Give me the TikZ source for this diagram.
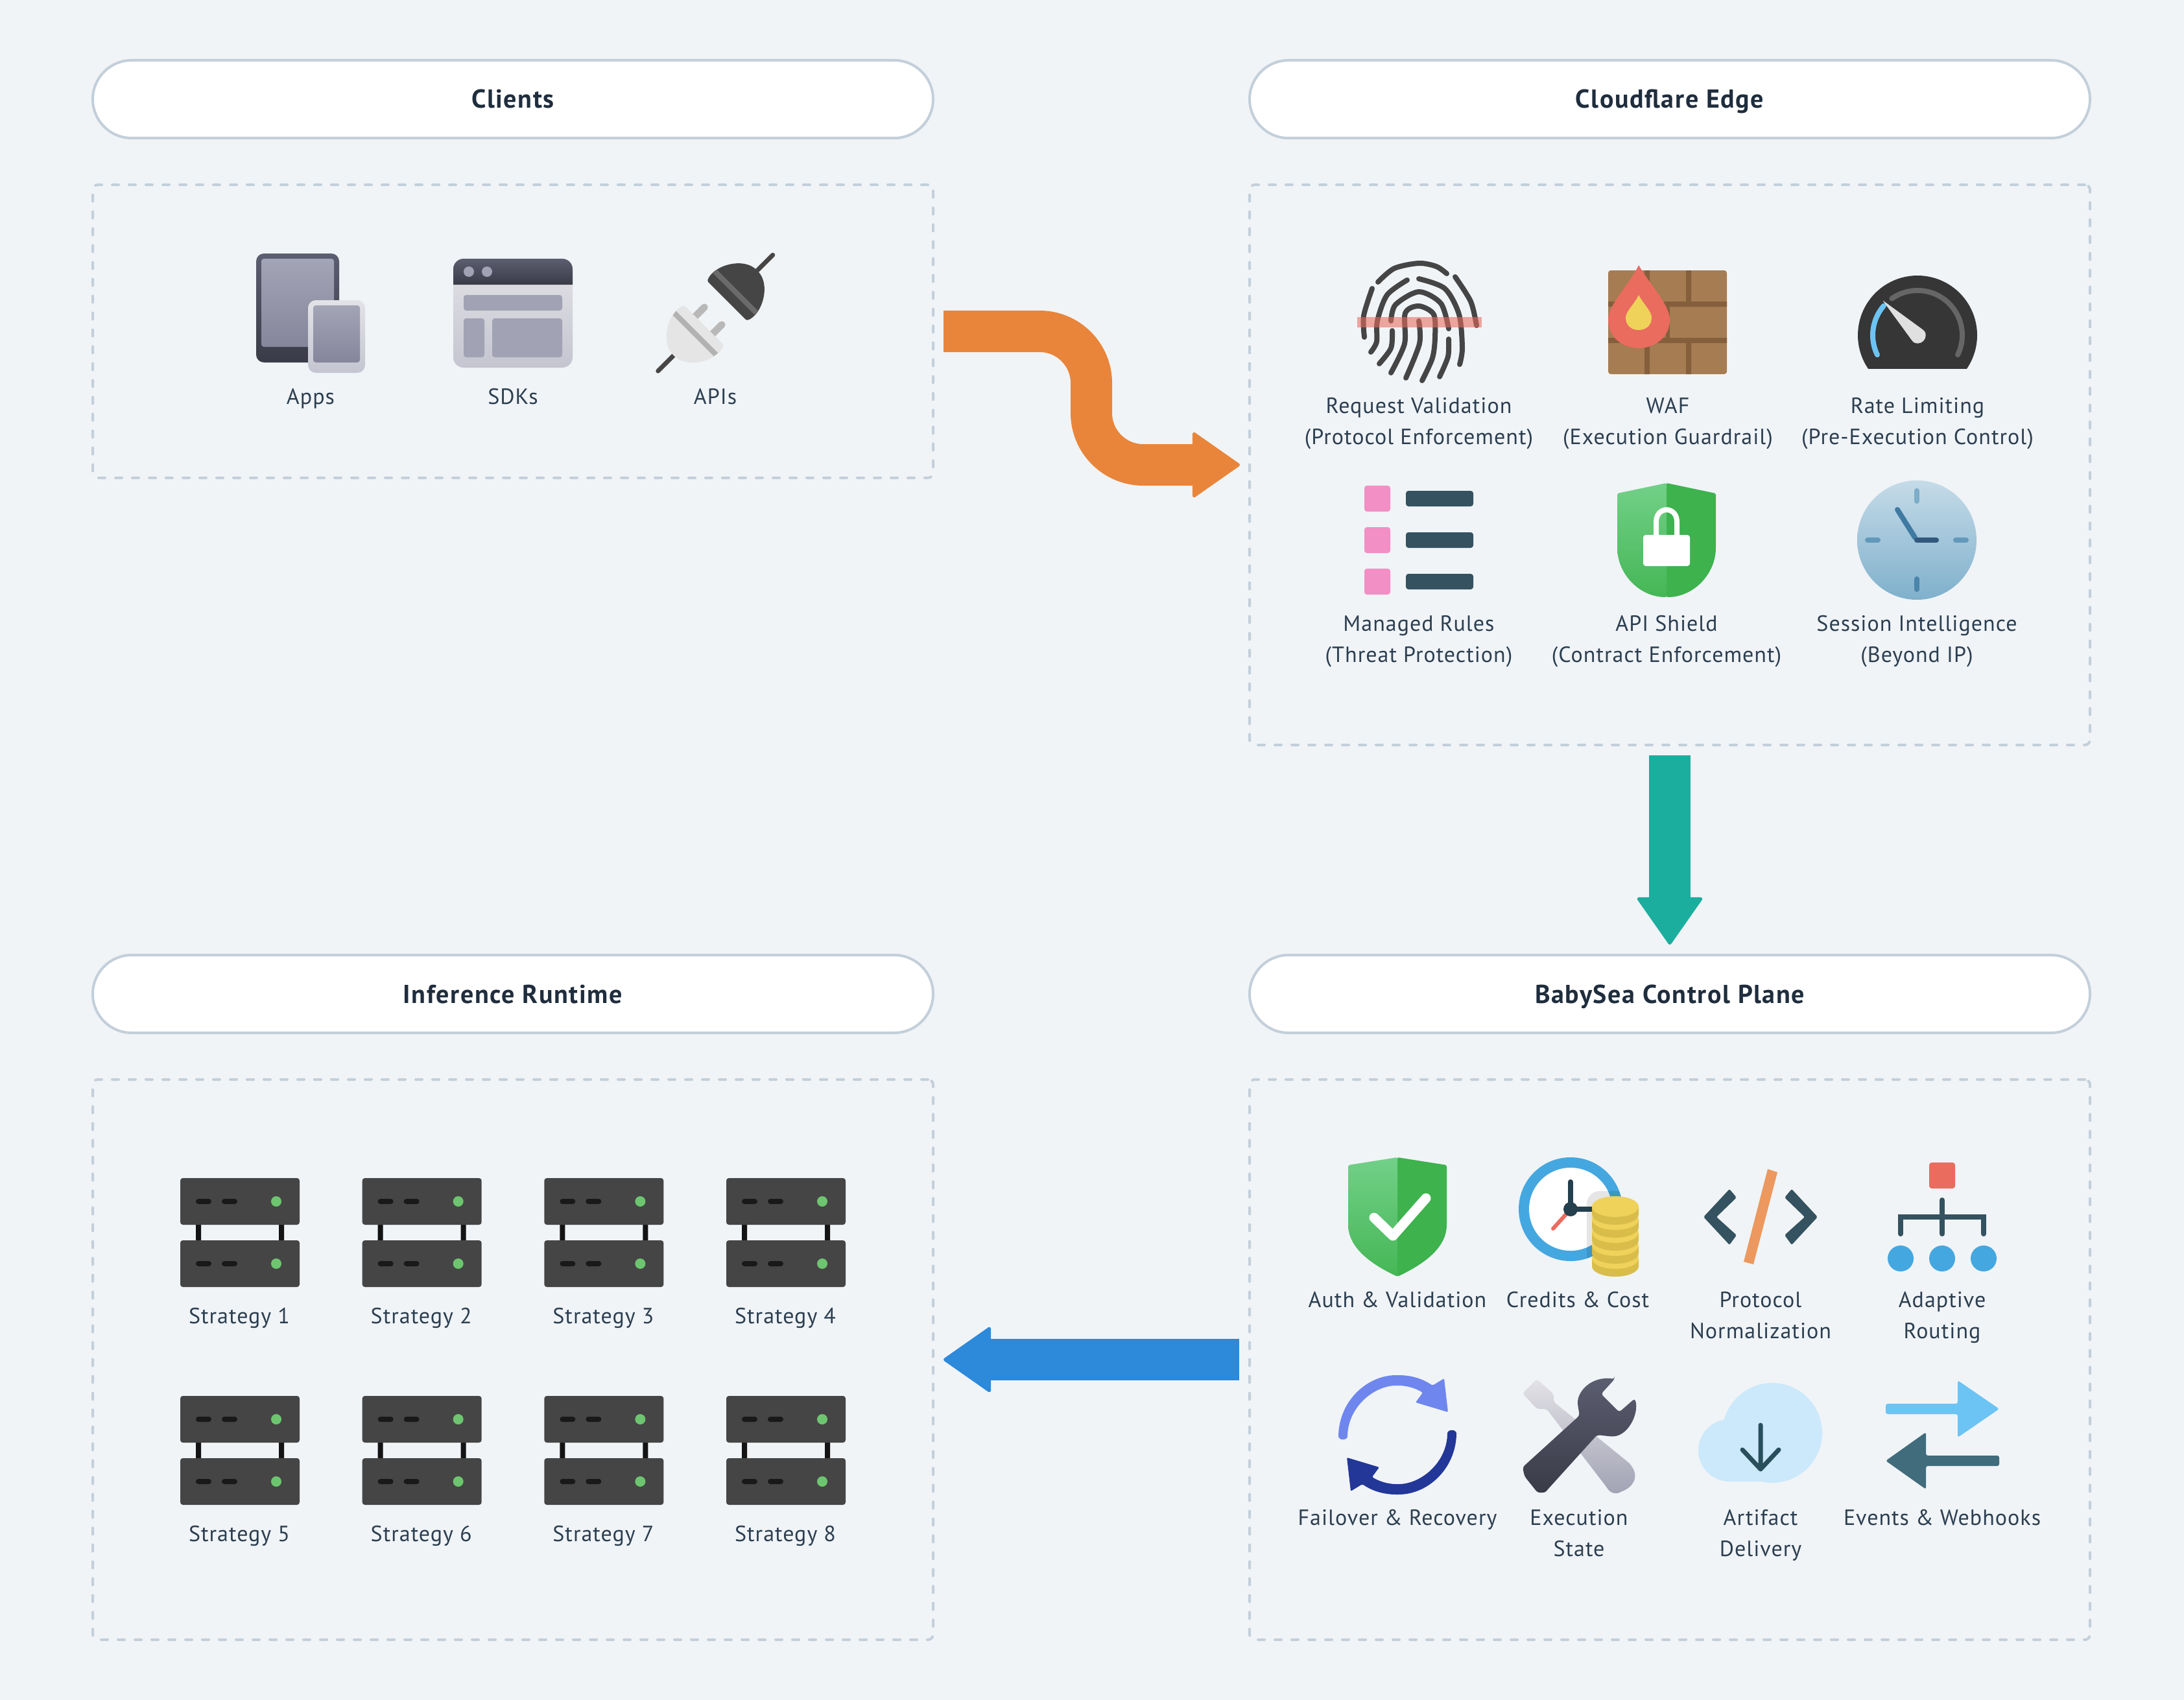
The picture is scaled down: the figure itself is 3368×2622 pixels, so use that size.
\documentclass[tikz,border=0pt]{standalone}
\usepackage{fontspec}
\setmainfont{PT Sans}
\usetikzlibrary{arrows.meta}
\definecolor{bgc}{HTML}{F0F4F7}
\definecolor{edgec}{HTML}{C3CFDA}
\definecolor{titlec}{HTML}{1F2D3D}
\definecolor{labc}{HTML}{2C3E50}
\definecolor{orangec}{HTML}{E9853A}
\definecolor{tealc}{HTML}{1BAE9E}
\definecolor{bluec}{HTML}{2D89DA}
\definecolor{darktop}{HTML}{5C5E71}
\definecolor{darkbot}{HTML}{3A3B47}
\definecolor{screentop}{HTML}{A3A4B5}
\definecolor{screenbot}{HTML}{85869B}
\definecolor{lighttop}{HTML}{E3E2E7}
\definecolor{lightbot}{HTML}{C4C5D0}
\definecolor{blockc}{HTML}{A1A2B3}
\definecolor{inkc}{HTML}{454545}
\definecolor{slatec}{HTML}{34525F}
\definecolor{redc}{HTML}{E96C5F}
\definecolor{yellowc}{HTML}{EFD25A}
\definecolor{coinc}{HTML}{D9BD4A}
\definecolor{greenl}{HTML}{72D088}
\definecolor{greend}{HTML}{3DB24D}
\definecolor{skyc}{HTML}{45A7DF}
\definecolor{brickc}{HTML}{A67C52}
\definecolor{mortarc}{HTML}{855E3C}
\definecolor{paleblue}{HTML}{6CC4F4}
\definecolor{pinkc}{HTML}{F28FC5}
\definecolor{dialtop}{HTML}{C5DBE8}
\definecolor{dialbot}{HTML}{7FB0CC}
\definecolor{tickt}{HTML}{7CADC9}
\definecolor{tickb}{HTML}{4A85AB}
\definecolor{tickm}{HTML}{6299BB}
\definecolor{handc}{HTML}{3F7AA2}
\definecolor{handk}{HTML}{33587D}
\definecolor{handd}{HTML}{243F4D}
\definecolor{slashc}{HTML}{EC985E}
\definecolor{failA}{HTML}{6F86EE}
\definecolor{failB}{HTML}{223797}
\definecolor{cloudc}{HTML}{CBE9FB}
\definecolor{cloudar}{HTML}{2A4F5C}
\definecolor{exchB}{HTML}{406C7C}
\definecolor{ledc}{HTML}{6DC66F}
\tikzset{
  x=0.5pt,y=-0.5pt,
  pillbox/.style={draw=edgec,line width=2pt,fill=white,rounded corners=30pt,minimum width=648pt,minimum height=60pt,inner sep=0pt,
    text height=14pt,text depth=0pt,
    font=\fontsize{20}{24}\selectfont\bfseries\addfontfeature{LetterSpace=4},text=titlec},
  panelbox/.style={draw=edgec,line width=2pt,rounded corners=4pt,line cap=round,dash pattern=on 5pt off 8pt,minimum width=648pt,inner sep=0pt},
  lab/.style={anchor=base,align=center,inner sep=0pt,text=labc,font=\fontsize{17}{24}\selectfont\addfontfeature{LetterSpace=3}},
  fprint/.style={draw=inkc,line width=4pt,line cap=round,line join=round},
  bigarrow/.style={line width=32pt,-{Triangle[length=37.5pt,width=52pt,line width=2.5pt,round]}},
  rr/.style={rounded corners=2pt},
}
\newcommand\lab[4]{\node[lab] (#1) at (#2,#3) {#4};}
\newcommand\plugdome{(-43,0) .. controls (-54,24) and (-30,66) .. (0,66) .. controls (30,66) and (54,24) .. (43,0) -- cycle}
\newcommand\failarc{(-91,0) .. controls (-88,-55) and (-45,-92) .. (0,-92) .. controls (22,-92) and (40,-86) .. (54,-76) -- (72,-87) -- (78,-35) -- (28,-50) -- (39,-65) .. controls (28,-72) and (14,-76) .. (0,-76) .. controls (-35,-76) and (-74,-45) .. (-77,0) .. controls (-77,9) and (-91,9) .. cycle}
\begin{document}
\begin{tikzpicture}
\useasboundingbox (0,0) rectangle (3368,2622);
\fill[bgc] (0,0) rectangle (3368,2622);
% pills
\node[pillbox] (tClients) at (791,153) {Clients};
\node[pillbox] (tEdge) at (2575,153) {Cloudflare Edge};
\node[pillbox] (tRuntime) at (791,1533) {Inference Runtime};
\node[pillbox] (tControl) at (2575,1533) {BabySea Control Plane};
% panels
\node[panelbox,minimum height=226pt] (pClients) at (791,511) {};
\node[panelbox,minimum height=432pt] (pEdge) at (2575,717) {};
\node[panelbox,minimum height=432pt] (pRuntime) at (791,2097) {};
\node[panelbox,minimum height=432pt] (pControl) at (2575,2097) {};
% connectors
\coordinate (oA) at (1455,511); \coordinate (oB) at (1912,717);
\coordinate (tA) at (2575,1165); \coordinate (tB) at (2575,1457);
\coordinate (bA) at (1911,2097); \coordinate (bB) at (1455,2097);
\draw[bigarrow,orangec,rounded corners=40pt] (oA) -- (1683,511) -- (1683,717) -- (oB);
\draw[bigarrow,tealc] (tA) -- (tB);
\draw[bigarrow,bluec] (bA) -- (bB);
% Apps
\shade[rounded corners=6pt,top color=darktop,bottom color=darkbot] (395,391) rectangle (523,559);
\shade[rr,top color=screentop,bottom color=screenbot] (403,399) rectangle (515,535);
\shade[rounded corners=6pt,top color=lighttop,bottom color=lightbot] (475,463) rectangle (563,575);
\shade[rr,top color=screentop,bottom color=screenbot] (483,471) rectangle (555,559);
\lab{lApps}{479}{623}{Apps}
% SDKs
\shade[rounded corners=8pt,top color=lighttop,bottom color=lightbot] (699,399) rectangle (883,567);
\shade[top color=darktop,bottom color=darkbot] (699,439) -- (699,415) arc[start angle=180,end angle=90,radius=8pt] -- (867,399) arc[start angle=90,end angle=0,radius=8pt] -- (883,439) -- cycle;
\fill[blockc] (723,419) circle[radius=4pt] (751,419) circle[radius=4pt];
\fill[rr,blockc] (715,455) rectangle (867,479);
\fill[rr,blockc] (715,491) rectangle (747,551);
\fill[rr,blockc] (759,491) rectangle (867,551);
\lab{lSDKs}{791}{623}{SDKs}
% APIs plug
\begin{scope}[shift={(1085.5,501.5)},rotate=-45]
  \draw[inkc,line width=3.5pt,line cap=round] (0,60) -- (0,100);
  \draw[color=black!28,line width=5.5pt,line cap=round] (-19,0) -- (-19,-20) (19,0) -- (19,-20);
  \fill[black!10,rounded corners=1pt] \plugdome;
  \begin{scope}\clip \plugdome; \draw[black!30,line width=4pt] (-60,19) -- (60,19); \end{scope}
\end{scope}
\begin{scope}[shift={(1121,464)},rotate=135]
  \draw[inkc,line width=3.5pt,line cap=round] (0,60) -- (0,100);
  \fill[inkc,rounded corners=1pt] \plugdome;
  \begin{scope}\clip \plugdome; \draw[black!58,line width=4pt] (-60,19) -- (60,19); \end{scope}
\end{scope}
\lab{lAPIs}{1103}{623}{APIs}
% Fingerprint
\draw[fprint] plot[smooth] coordinates {(2125,435) (2150,414) (2188,406) (2215,411) (2231,422)};
\draw[fprint] plot[smooth] coordinates {(2116,445) (2103,487) (2104,520)};
\draw[fprint] plot[smooth] coordinates {(2244,427) (2268,465) (2277,502)};
\draw[fprint] plot[smooth] coordinates {(2170,432) (2139,455) (2124,495) (2123,527) (2114,543)};
\draw[fprint] plot[smooth] coordinates {(2188,430) (2228,445) (2250,485) (2255,537) (2251,562)};
\draw[fprint] plot[smooth] coordinates {(2145,495) (2152,470) (2188,450) (2222,468) (2234,507)};
\draw[fprint] plot[smooth] coordinates {(2147,510) (2145,537) (2127,561)};
\draw[fprint] plot[smooth] coordinates {(2234,523) (2233,550) (2220,581)};
\draw[fprint] plot[smooth] coordinates {(2145,575) (2166,530) (2167,483) (2188,472) (2211,485) (2213,520) (2209,552) (2193,587)};
\draw[fprint] plot[smooth] coordinates {(2188,495) (2189,530) (2168,583)};
\fill[redc,opacity=.58] (2093,489) rectangle (2285,505);
\lab{lReq}{2188}{685}{Request Validation\\(Protocol Enforcement)}
% WAF
\fill[rr,brickc] (2480,417) rectangle (2663,577);
\fill[mortarc] (2480,465) rectangle (2663,473) (2480,521) rectangle (2663,529);
\fill[mortarc] (2536,417) rectangle (2544,465) (2600,417) rectangle (2608,465);
\fill[mortarc] (2569,473) rectangle (2575,521);
\fill[mortarc] (2536,529) rectangle (2544,577) (2600,529) rectangle (2608,577);
\fill[redc] (2527,409) .. controls (2545,440) and (2575,470) .. (2575,493) .. controls (2575,520) and (2552,537) .. (2527,537) .. controls (2502,537) and (2480,520) .. (2480,493) .. controls (2480,470) and (2512,440) .. (2527,409) -- cycle;
\fill[yellowc] (2527,455) .. controls (2535,470) and (2547,480) .. (2547,490) .. controls (2547,502) and (2538,509) .. (2527,509) .. controls (2516,509) and (2507,502) .. (2507,490) .. controls (2507,480) and (2520,470) .. (2527,455) -- cycle;
\lab{lWAF}{2572}{685}{WAF\\(Execution Guardrail)}
% Gauge
\fill[black!79] plot[domain=-34.4:214.4,samples=90] ({2957+92*cos(\x)},{517-92*sin(\x)}) -- cycle;
\draw[black!60,line width=4pt,line cap=round] plot[domain=-26:125,samples=50] ({2957+69*cos(\x)},{517-69*sin(\x)});
\draw[paleblue,line width=4pt,line cap=round] plot[domain=206:139,samples=30] ({2957+69*cos(\x)},{517-69*sin(\x)});
\fill[black!12,rounded corners=1pt] (2903,463) -- (2966,509) arc[start angle=45,end angle=-135,radius=6pt] -- cycle;
\lab{lRate}{2957}{685}{Rate Limiting\\(Pre-Execution Control)}
% Managed rules
\foreach \dy in {0,64,128}{
  \fill[rr,pinkc] (2104,749+\dy) rectangle (2144,789+\dy);
  \fill[rr,slatec] (2168,757+\dy) rectangle (2272,781+\dy);
}
\lab{lRules}{2188}{1021}{Managed Rules\\(Threat Protection)}
% API shield
\fill[greend,rounded corners=1pt] (2570,745) -- (2646,761) -- (2646,843) .. controls (2646,885) and (2612,921) .. (2570,921) -- cycle;
\shade[top color=greenl,bottom color=greend!85!greenl,rounded corners=1pt] (2570,745) -- (2494,761) -- (2494,843) .. controls (2494,885) and (2528,921) .. (2570,921) -- cycle;
\draw[white,line width=4pt] (2554,830) -- (2554,805) .. controls (2554,780) and (2586,780) .. (2586,805) -- (2586,830);
\fill[white,rr] (2534,825) rectangle (2606,873);
\lab{lShield}{2570}{1021}{API Shield\\(Contract Enforcement)}
% Session clock
\shade[top color=dialtop,bottom color=dialbot] (2956,833) circle[radius=46pt];
\draw[line width=4pt,line cap=round,tickt] (2956,757) -- (2956,773);
\draw[line width=4pt,line cap=round,tickb] (2956,893) -- (2956,909);
\draw[line width=4pt,line cap=round,tickm] (2880,833) -- (2896,833) (3016,833) -- (3032,833);
\draw[line width=4pt,line cap=round,line join=round,handc] (2926,786) -- (2953,829);
\draw[line width=4pt,line cap=round,line join=round,handk] (2956,833) -- (2986,833);
\lab{lSess}{2956}{1021}{Session Intelligence\\(Beyond IP)}
% Auth shield
\fill[greend,rounded corners=1pt] (2155,1785) -- (2231,1797) -- (2231,1887) .. controls (2231,1925) and (2195,1950) .. (2155,1969) -- cycle;
\shade[top color=greenl,bottom color=greend!85!greenl,rounded corners=1pt] (2155,1785) -- (2079,1797) -- (2079,1887) .. controls (2079,1925) and (2115,1950) .. (2155,1969) -- cycle;
\draw[white,line width=7.5pt,line cap=round,line join=round] (2119,1878) -- (2148,1906) -- (2199,1848);
\lab{lAuth}{2155}{2016}{Auth \& Validation}
% Clock and coins
\fill[skyc] (2422,1865) circle[radius=40pt];
\fill[white] (2422,1865) circle[radius=32pt];
\begin{scope}\clip (2422,1865) circle[radius=40pt];
\fill[black,opacity=.1,rounded corners=10pt] (2447,1837) rectangle (2530,1980);
\end{scope}
\draw[redc,line width=3pt,line cap=round] (2422,1865) -- (2395,1895);
\draw[line width=4pt,handd,line cap=round] (2422,1823) -- (2422,1865) -- (2460,1865);
\fill[handd] (2422,1865) circle[radius=5.5pt];
\foreach \cy in {1941,1921,1901,1881,1861}{
  \fill[coinc] (2455,\cy) -- (2455,\cy+12) arc[start angle=180,end angle=360,x radius=18pt,y radius=8pt] -- (2527,\cy) -- cycle;
  \fill[yellowc] (2491,\cy) ellipse[x radius=18pt,y radius=8pt];
}
\lab{lCred}{2433}{2016}{Credits \& Cost}
% Code
\fill[slatec,rounded corners=1pt] (2667,1834) -- (2627,1877) -- (2667,1920) -- (2678,1905) -- (2647,1877) -- (2678,1847) -- cycle;
\fill[slatec,rounded corners=1pt] (2763,1834) -- (2803,1877) -- (2763,1920) -- (2752,1905) -- (2783,1877) -- (2752,1847) -- cycle;
\fill[slashc] (2726,1803) -- (2741,1808) -- (2704,1950) -- (2689,1946) -- cycle;
\lab{lProt}{2715}{2064}{Protocol\\Normalization}
% Routing
\fill[rr,redc] (2975,1793) rectangle (3015,1833);
\draw[slatec,line width=4pt,line cap=round] (2995,1851) -- (2995,1903) (2931,1903) -- (2931,1877) -- (3059,1877) -- (3059,1903);
\fill[skyc] (2931,1941) circle[radius=10pt] (2995,1941) circle[radius=10pt] (3059,1941) circle[radius=10pt];
\lab{lRout}{2995}{2064}{Adaptive\\Routing}
% Failover
\begin{scope}[shift={(2155,2213)}]
\fill[rounded corners=1pt,failA] \failarc;
\end{scope}
\begin{scope}[shift={(2155,2213)},rotate=180]
\fill[rounded corners=1pt,failB] \failarc;
\end{scope}
\lab{lFail}{2155}{2352}{Failover \& Recovery}
% Tools
\shade[top color=lighttop,bottom color=blockc,rounded corners=2pt] (2370,2127) -- (2348,2149) -- (2370,2173) -- (2385,2173) -- (2477,2293) .. controls (2485,2305) and (2495,2303) .. (2499,2301) .. controls (2515,2295) and (2530,2280) .. (2513,2257) -- (2396,2162) -- (2396,2150) -- cycle;
\shade[top color=darktop,bottom color=darkbot,rounded corners=2pt] (2490,2127) -- (2469,2150) -- (2497,2178) -- (2521,2157) .. controls (2528,2180) and (2510,2218) .. (2480,2215) -- (2463,2213) -- (2387,2297) .. controls (2382,2303) and (2372,2303) .. (2367,2297) -- (2351,2277) -- (2348,2263) -- (2436,2183) -- (2433,2167) .. controls (2433,2145) and (2455,2122) .. (2490,2127) -- cycle;
\lab{lExec}{2435}{2400}{Execution\\State}
% Cloud
\fill[cloudc] (2733,2210) circle[radius=38.5pt] (2667,2237) circle[radius=24pt] (2667,2237) rectangle (2733,2285);
\draw[cloudar,line width=3.5pt,line cap=round,line join=round] (2715,2198) -- (2715,2264) (2687,2236) -- (2715,2266) -- (2743,2236);
\lab{lArt}{2715}{2400}{Artifact\\Delivery}
% Exchange
\fill[rounded corners=1.5pt,paleblue] (2908,2165) -- (3019,2165) -- (3019,2129) -- (3083,2173) -- (3019,2217) -- (3019,2181) -- (2908,2181) -- cycle;
\fill[rounded corners=1.5pt,exchB] (3083,2245) -- (2970,2245) -- (2970,2209) -- (2908,2253) -- (2970,2297) -- (2970,2261) -- (3083,2261) -- cycle;
\lab{lEvt}{2995}{2352}{Events \& Webhooks}
% Servers
\foreach \row in {0,1}{
  \foreach \col in {0,1,2,3}{
    \pgfmathsetmacro{\sx}{280.67*\col}
    \pgfmathsetmacro{\sy}{336*\row}
    \pgfmathtruncatemacro{\num}{\row*4+\col+1}
    \begin{scope}[shift={(\sx,\sy)}]
      \fill[black!92] (302,1885) rectangle (310,1917) (430,1885) rectangle (438,1917);
      \foreach \oy in {0,96}{
        \fill[rr,inkc] (278,1817+\oy) rectangle (462,1889+\oy);
        \fill[rounded corners=2pt,black!90] (302,1849+\oy) rectangle (326,1857+\oy) (342,1849+\oy) rectangle (366,1857+\oy);
        \fill[ledc] (426,1853+\oy) circle[radius=4pt];
      }
      \node[lab] (lS\num) at (369,2041) {Strategy \num};
    \end{scope}
  }
}
\end{tikzpicture}
\end{document}
